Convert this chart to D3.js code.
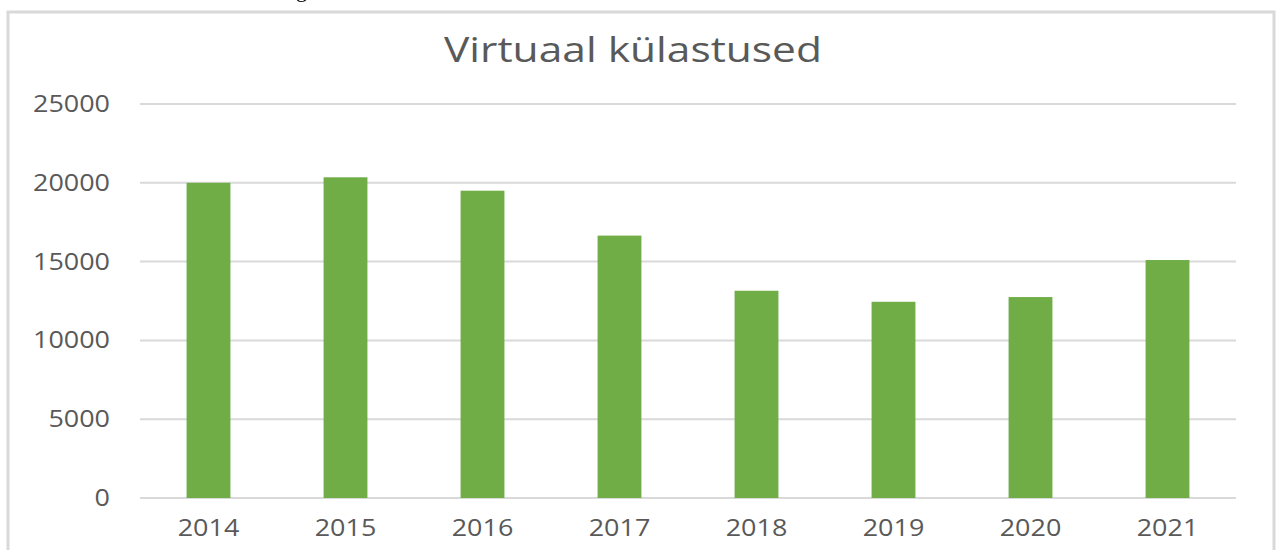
<!DOCTYPE html>
<html>
<head>
<meta charset="utf-8">
<script src="https://cdn.jsdelivr.net/npm/d3@7"></script>
<style>
  body { margin: 0; background: #fff; }
  svg { display: block; font-family: "Open Sans", sans-serif; }
</style>
</head>
<body>
<svg id="chart" width="1279" height="550"></svg>
<script>
// data
const years = ["2014", "2015", "2016", "2017", "2018", "2019", "2020", "2021"];
const visits = [20000, 20350, 19500, 16650, 13150, 12450, 12750, 15100];
const yTicks = [0, 5000, 10000, 15000, 20000, 25000];
const chartTitle = "Virtuaal külastused";

const svg = d3.select("#chart");
const textColor = "#595959";
const gridColor = "#d9d9d9";
const stretch = 1.17; // labels in the picture are wider than Open Sans

// stretch a text horizontally around its anchor
function widen(sel, k) {
    sel.each(function () {
        const w = this.getComputedTextLength();
        d3.select(this).attr("textLength", w * k).attr("lengthAdjust", "spacingAndGlyphs");
    });
}

// piece of the document text above the chart, cut off at the top
svg.append("text")
    .attr("x", 296).attr("y", -3)
    .attr("font-family", "Liberation Serif")
    .attr("font-size", 22)
    .attr("fill", "#000")
    .text("g");

// chart frame
svg.append("rect")
    .attr("x", 8).attr("y", 12)
    .attr("width", 1266).attr("height", 560)
    .attr("fill", "none")
    .attr("stroke", gridColor)
    .attr("stroke-width", 3);

const x = d3.scaleBand()
    .domain(years)
    .range([140, 1236])
    .paddingInner(0.68)
    .paddingOuter(0.34);

const y = d3.scaleLinear()
    .domain([0, 25000])
    .range([498, 104]);

// gridlines
svg.append("g")
    .selectAll("line")
    .data(yTicks)
    .join("line")
    .attr("x1", 140).attr("x2", 1236)
    .attr("y1", d => y(d)).attr("y2", d => y(d))
    .attr("stroke", gridColor)
    .attr("stroke-width", 2);

// y labels
svg.append("g")
    .selectAll("text")
    .data(yTicks)
    .join("text")
    .attr("x", 110)
    .attr("y", d => y(d) + 8)
    .attr("text-anchor", "end")
    .attr("font-size", 23)
    .attr("fill", textColor)
    .text(d => d)
    .call(widen, stretch);

// bars
svg.append("g")
    .selectAll("rect")
    .data(years)
    .join("rect")
    .attr("x", d => x(d))
    .attr("width", x.bandwidth())
    .attr("y", (d, i) => y(visits[i]))
    .attr("height", (d, i) => y(0) - y(visits[i]))
    .attr("fill", "#70ad47");

// x labels
svg.append("g")
    .selectAll("text")
    .data(years)
    .join("text")
    .attr("x", d => x(d) + x.bandwidth() / 2)
    .attr("y", 536)
    .attr("text-anchor", "middle")
    .attr("font-size", 23)
    .attr("fill", textColor)
    .text(d => d)
    .call(widen, stretch);

// title
svg.append("text")
    .attr("x", 633)
    .attr("y", 62)
    .attr("text-anchor", "middle")
    .attr("font-size", 34)
    .attr("fill", textColor)
    .text(chartTitle)
    .call(widen, 1.25);
</script>
</body>
</html>
